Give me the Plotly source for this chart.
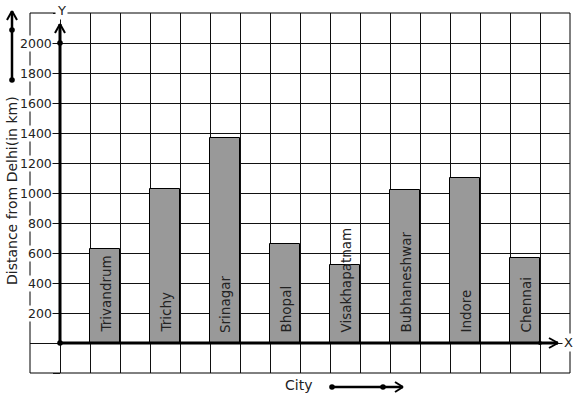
import plotly.graph_objects as go

cities = ["Trivandrum", "Trichy", "Srinagar", "Bhopal", "Visakhapatnam",
          "Bubhaneshwar", "Indore", "Chennai"]
distances = [630, 1030, 1370, 660, 520, 1020, 1100, 570]
y_ticks = [200, 400, 600, 800, 1000, 1200, 1400, 1600, 1800, 2000]
x_title = "City"
y_title = "Distance from Delhi(in km)"

W, H = 577, 399
L, R, T, B = 30, 7, 13, 26
PW, PH = W - L - R, H - T - B
FONT = "DejaVu Sans"

def px(x):
    return (x - L) / PW

def py(y):
    return (H - B - y) / PH

# bar positions: one bar every two grid cells, starting one cell right of the y axis
xpos = [1.5 + 2 * i for i in range(len(cities))]

fig = go.Figure()
fig.add_trace(go.Bar(
    x=xpos, y=distances, width=1,
    marker=dict(color="#999999", line=dict(color="black", width=1)),
    hoverinfo="skip", showlegend=False,
))

annotations = []
for xc, name in zip(xpos, cities):
    annotations.append(dict(x=xc, y=0, xref="x", yref="y", text=name,
                            textangle=-90, yanchor="bottom", xanchor="center",
                            yshift=8, showarrow=False,
                            font=dict(family=FONT, size=13.5, color="#222")))
for v in y_ticks:
    annotations.append(dict(x=0, y=v, xref="x", yref="y", text=str(v),
                            xanchor="right", yanchor="middle", xshift=-7,
                            showarrow=False, bgcolor="white", borderpad=0,
                            font=dict(family=FONT, size=12.5, color="#222")))

def label(x, y, text, size, angle=0, bg="rgba(0,0,0,0)"):
    return dict(x=px(x), y=py(y), xref="paper", yref="paper", text=text,
                textangle=angle, xanchor="center", yanchor="middle",
                showarrow=False, bgcolor=bg, borderpad=1,
                font=dict(family=FONT, size=size, color="#222"))

annotations += [
    label(12, 191, y_title, 14, -90),
    label(298, 385, x_title, 14),
    label(568, 342, "X", 13, bg="white"),
    label(61, 10, "Y", 13, bg="white"),
]

def line(x0, y0, x1, y1, w=2.5):
    return dict(type="line", xref="paper", yref="paper",
                x0=px(x0), y0=py(y0), x1=px(x1), y1=py(y1),
                line=dict(color="black", width=w), layer="above")

def dot(x, y, r=2.8):
    return dict(type="circle", xref="paper", yref="paper",
                x0=px(x - r), x1=px(x + r), y0=py(y + r), y1=py(y - r),
                fillcolor="black", line=dict(color="black", width=0), layer="above")

shapes = [
    dict(type="rect", xref="paper", yref="paper", x0=0, x1=1, y0=0, y1=1,
         line=dict(color="black", width=1), layer="below"),
    # axes
    line(60, 343, 60, 24, 3), line(55, 33, 60, 24, 2), line(65, 33, 60, 24, 2),
    line(60, 343, 558, 343, 3), line(549, 338, 558, 343, 2), line(549, 348, 558, 343, 2),
    dot(60, 343), dot(60, 43), dot(540, 343, 2),
    # side arrow
    line(12, 80, 12, 11, 2.5), line(7, 20, 12, 11, 2), line(17, 20, 12, 11, 2),
    dot(12, 30), dot(12, 80),
    # bottom arrow
    line(332, 387, 403, 387, 2.5), line(395, 382, 403, 387, 2), line(395, 392, 403, 387, 2),
    dot(332, 387), dot(383, 387),
]

fig.update_layout(
    width=W, height=H, margin=dict(l=L, r=R, t=T, b=B, autoexpand=False),
    paper_bgcolor="white", plot_bgcolor="white",
    annotations=annotations, shapes=shapes, bargap=0,
    xaxis=dict(range=[-1, 17], tick0=0, dtick=1, showgrid=True,
               gridcolor="#111", gridwidth=1, showticklabels=False,
               zeroline=False, ticks="", showline=False, fixedrange=True,
               automargin=False),
    yaxis=dict(range=[-200, 2200], tickvals=list(range(-200, 2201, 200)),
               showgrid=True, gridcolor="#111", gridwidth=1,
               showticklabels=False, ticks="outside", ticklen=7,
               tickcolor="#111", tickwidth=1,
               anchor="free", position=px(60), automargin=False,
               zeroline=False, showline=False, fixedrange=True),
)

fig.write_html("out.html", config={"displayModeBar": False},
               post_script="document.body.style.margin='0px';")
